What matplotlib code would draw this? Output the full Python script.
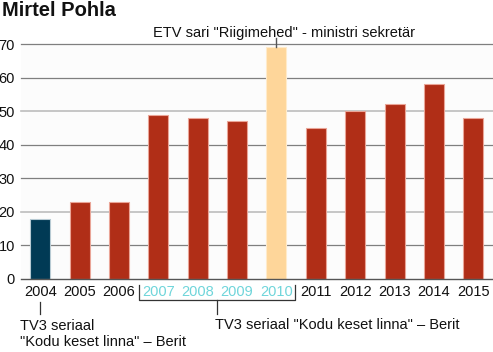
import matplotlib
matplotlib.use("Agg")
import matplotlib.pyplot as plt
from matplotlib.lines import Line2D

years = ["2004", "2005", "2006", "2007", "2008", "2009", "2010",
         "2011", "2012", "2013", "2014", "2015"]
values = [18, 23, 23, 49, 48, 47, 69, 45, 50, 52, 58, 48]
y_ticks = [0, 10, 20, 30, 40, 50, 60, 70]
title = "Mirtel Pohla"
note_top = "ETV sari \"Riigimehed\" - ministri sekretär"
note_bracket = "TV3 seriaal \"Kodu keset linna\" – Berit"
note_2004 = "TV3 seriaal\n\"Kodu keset linna\" – Berit"

RED = "#B02E17"
BLUE = "#013A55"
PEACH = "#FED69A"
CYAN = "#6FD5DA"

plt.rcParams['font.family'] = ['Liberation Sans', 'DejaVu Sans']

fig = plt.figure(figsize=(4.93, 3.52), dpi=100)
ax = fig.add_axes([20.5 / 493, 73 / 352, 1 - 20.5 / 493, (279 - 44) / 352])
ax.set_facecolor("#FCFCFC")

colors = []
edges = []
for i, y in enumerate(years):
    if y == "2004":
        colors.append(BLUE); edges.append("#B7CAD3")
    elif y == "2010":
        colors.append(PEACH); edges.append("#FFEBCB")
    else:
        colors.append(RED); edges.append("#EAA597")

x = list(range(len(years)))
ax.bar(x, values, width=0.51, color=colors, edgecolor=edges, linewidth=0.8, zorder=3)

ax.set_xlim(-0.5, len(years) - 0.5)
ax.set_ylim(0, 70)

for t in y_ticks:
    if t == 0:
        continue
    c = "#BDBDBD" if t in (20, 50) else "#7F7F7F"
    ax.axhline(t, color=c, linewidth=1.2 if t in (20, 50) else 0.9, zorder=1, clip_on=False)
ax.axhline(0, color="#555555", linewidth=1.0, zorder=4, clip_on=False)

for s in ax.spines.values():
    s.set_visible(False)

ax.set_yticks(y_ticks)
ax.set_yticklabels([str(t) for t in y_ticks], fontsize=10.5, color="#111111")
ax.set_xticks(x)
ax.set_xticklabels(years, fontsize=10.5, color="#111111")
ax.tick_params(axis='both', length=0)
ax.tick_params(axis='y', pad=4)
ax.tick_params(axis='x', pad=4)
for lbl, y in zip(ax.get_xticklabels(), years):
    if y in ("2007", "2008", "2009", "2010"):
        lbl.set_color(CYAN)

fig.text(2 / 493, 1 - 11 / 352, title, fontsize=14.5, fontweight='bold',
         ha='left', va='center', color="#111111")

# top annotation for 2010
i10 = years.index("2010")
ax.plot([i10, i10], [69, 71.8], color="#555555", linewidth=1, clip_on=False, zorder=5)
ax.annotate(note_top, xy=(i10, 71.8), xytext=(5.3, 3.8), textcoords='offset points',
            ha='center', va='center', fontsize=10.5, color="#111111", annotation_clip=False)

# bracket 2007-2010
trans = ax.get_xaxis_transform()
i07 = years.index("2007")
xl, xr = i07 - 0.5 + 0.02, i10 + 0.5 - 0.02
yt = -6 / 235
yb = -21 / 235
yc = -35 / 235
bx = [xl, xl, xr, xr]
by = [yt, yb, yb, yt]
ax.add_line(Line2D(bx, by, transform=trans, color="#333333", linewidth=0.9, clip_on=False))
xm = (xl + xr) / 2
ax.add_line(Line2D([xm, xm], [yb, yc], transform=trans, color="#333333", linewidth=0.9, clip_on=False))
ax.text(xm - 0.05, -46 / 235, note_bracket, transform=trans, ha='left', va='center',
        fontsize=10.5, color="#111111")

# 2004 annotation
ax.add_line(Line2D([0, 0], [-23 / 235, -35 / 235], transform=trans, color="#333333",
                   linewidth=0.9, clip_on=False))
ax.text(-0.5, -55 / 235, note_2004, transform=trans, ha='left', va='center',
        fontsize=10.5, color="#111111", linespacing=1.2)

fig.savefig("out.png", dpi=100)
